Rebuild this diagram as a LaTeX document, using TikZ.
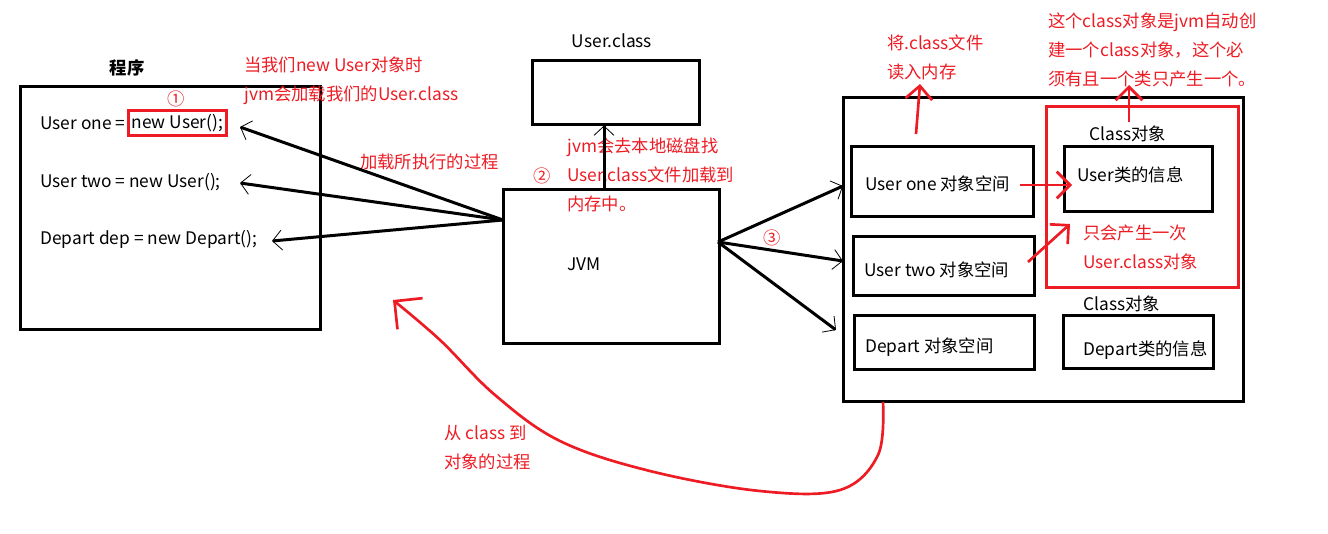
\documentclass[tikz,border=0pt]{standalone}
\usepackage{fontspec}
\setmainfont{Noto Sans CJK SC}
\usetikzlibrary{arrows.meta,positioning}
\definecolor{pen}{HTML}{ED1C24}
\begin{document}
\begin{tikzpicture}[x=0.75pt,y=-0.75pt,
	box/.style={draw,line width=2.25pt,inner sep=0},
	txt/.style={anchor=west,inner sep=0,align=left,font=\fontsize{13}{21.5}\selectfont},
	rtxt/.style={txt,text=pen},
	blk/.style={line width=2.25pt,-{Straight Barb[length=7pt,width=15pt,line width=0.6pt]}},
	redarrow/.style={pen,line width=2pt,-{Straight Barb[length=10pt,width=20pt,line width=2pt]}}]
\useasboundingbox (0,0) rectangle (1328,533);
\begin{scope}
	\node[box,minimum width=225pt,minimum height=182.25pt] (prog) at (170,207.5) {};
	\node[font=\fontsize{13}{15}\selectfont\bfseries] (progt) at (127,68) {程序};
	\node[txt] (one) at (40,123) {User one =};
	\node[txt,draw=pen,line width=2.25pt,inner sep=2.5pt,right=1pt of one] (newone) {new User();};
	\node[rtxt,anchor=center] (n1) at (176,99) {①};
	\node[txt] (two) at (40,182) {User two = new User();};
	\node[txt] (dep) at (40,239) {Depart dep = new Depart();};
	\node[rtxt] (when) at (244,80.5) {当我们new User对象时\\jvm会加载我们的User.class};
	\node[rtxt] (proc) at (360,162) {加载所执行的过程};
\end{scope}
\begin{scope}
	\node[box,minimum width=125.25pt,minimum height=48pt] (file) at (615.5,92) {};
	\node[txt,anchor=center] (filet) at (612,41) {User.class};
	\node[box,minimum width=162pt,minimum height=115.5pt] (jvm) at (611,266) {};
	\node[txt] (jvmt) at (567,264) {JVM};
	\node[rtxt] (disk) at (567,175) {jvm会去本地磁盘找\\User.class文件加载到\\内存中。};
	\node[rtxt,anchor=center] (n2) at (542,176) {②};
	\node[rtxt,anchor=center] (n3) at (772,238) {③};
	\coordinate (jvmL) at (503,220);
	\coordinate (jvmR) at (718,242);
	\coordinate (jvmT) at (604,189);
	\coordinate (a1) at (240,127);
	\coordinate (a2) at (240,183);
	\coordinate (a3) at (272,241);
	\draw[blk] (jvmL) -- (a1);
	\draw[blk] (jvmL) -- (a2);
	\draw[blk] (jvmL) -- (a3);
	\draw[blk] (jvmT) -- (jvmT |- file.south);
\end{scope}
\begin{scope}
	\node[box,minimum width=300pt,minimum height=228pt] (heap) at (1043,249) {};
	\node[box,minimum width=136.5pt,minimum height=52.5pt] (oneobj) at (942,181) {};
	\node[txt] at (865,184) {User one 对象空间};
	\node[box,minimum width=135.75pt,minimum height=44.25pt] (twoobj) at (943.5,265.5) {};
	\node[txt] at (864,270) {User two 对象空间};
	\node[box,minimum width=135pt,minimum height=40.5pt] (depobj) at (944,342) {};
	\node[txt] at (865,347) {Depart 对象空间};
	\node[box,draw=pen,minimum width=144pt,minimum height=135.75pt] (single) at (1142,196.5) {};
	\node[txt,anchor=center] (cls1) at (1128,134) {Class对象};
	\node[box,minimum width=111pt,minimum height=48.75pt] (userinfo) at (1138,178.5) {};
	\node[txt] at (1077,175) {User类的信息};
	\node[rtxt] (once) at (1083,247.5) {只会产生一次\\User.class对象};
	\node[txt,anchor=center] (cls2) at (1122,304) {Class对象};
	\node[box,minimum width=112.5pt,minimum height=39.75pt] (depinfo) at (1138,341.5) {};
	\node[txt] at (1083,350) {Depart类的信息};
	\node[rtxt] (read) at (887,57.5) {将.class文件\\读入内存};
	\node[rtxt] (auto) at (1048,50) {这个class对象是jvm自动创\\建一个class对象，这个必\\须有且一个类只产生一个。};
	\node[rtxt] (toobj) at (444,447.5) {从 class 到\\对象的过程};
	\coordinate (b1) at (843,186);
	\coordinate (b2) at (843,261);
	\coordinate (b3) at (836,330);
	\draw[blk] (jvmR) -- (b1);
	\draw[blk] (jvmR) -- (b2);
	\draw[blk] (jvmR) -- (b3);
	\coordinate (r1) at (1020,185);
	\coordinate (r2) at (1028,262);
	\coordinate (r3) at (916,134);
	\coordinate (r4) at (1129,122);
	\draw[redarrow] (r1) -- (1072,185);
	\draw[redarrow] (r2) -- (1070,224);
	\draw[redarrow] (r3) -- (920,84);
	\draw[redarrow] (r4) -- (1129,85);
	\coordinate (back) at (883,402);
	\coordinate (loop) at (393,300);
	\draw[pen,line width=2pt,-{Straight Barb[length=15pt,width=30pt,line width=2pt]}] plot[smooth,tension=0.6] coordinates {(back) (878,455) (840,490) (760,491) (650,471) (560,441) (495,395) (440,340) (loop)};
\end{scope}
\end{tikzpicture}
\end{document}
